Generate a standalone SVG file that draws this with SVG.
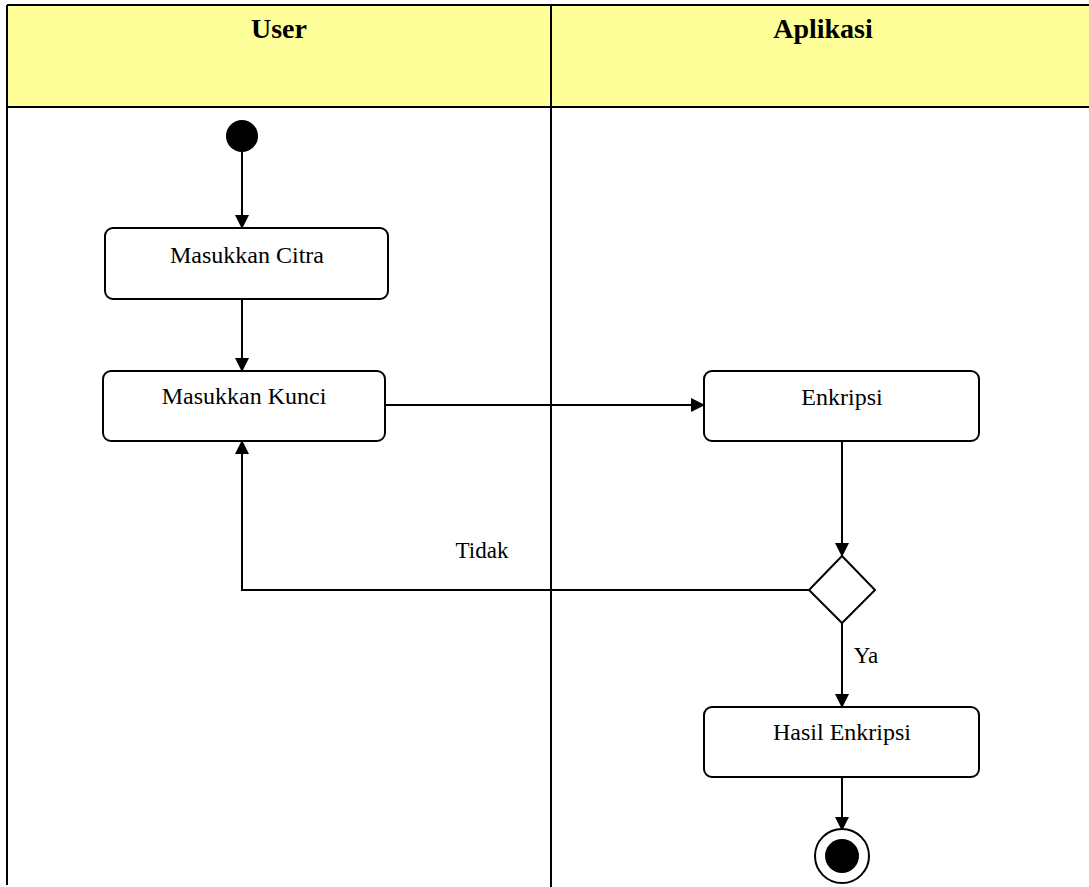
<svg xmlns="http://www.w3.org/2000/svg" width="1089" height="887" viewBox="0 0 1089 887">
<defs>
<marker id="arr" markerWidth="14" markerHeight="14" refX="13" refY="7" orient="auto" markerUnits="userSpaceOnUse">
<path d="M0,0 L14,7 L0,14 z" fill="#000"/>
</marker>
<style>
.lane{stroke:#000;stroke-width:2;fill:none}
.hdr{font-family:"Liberation Serif","Times New Roman",serif;font-weight:bold;font-size:28px;text-anchor:middle}
.act{fill:#fff;stroke:#000;stroke-width:2}
.lbl{font-family:"Liberation Serif","Times New Roman",serif;font-size:24px;text-anchor:middle}
.elbl{font-family:"Liberation Serif","Times New Roman",serif;font-size:23px;text-anchor:middle}
.edge{stroke:#000;stroke-width:2;fill:none;marker-end:url(#arr)}
</style>
</defs>
<rect width="1089" height="887" fill="#fff"/>
<g id="lanes">
<rect x="8" y="6" width="1081" height="101" fill="#FFFF99"/>
<line class="lane" x1="7" y1="5" x2="1089" y2="5"/>
<line class="lane" x1="7" y1="107" x2="1089" y2="107"/>
<line class="lane" x1="7" y1="5" x2="7" y2="885"/>
<line class="lane" x1="551" y1="5" x2="551" y2="887"/>
<text class="hdr" x="279" y="38">User</text>
<text class="hdr" x="823" y="38">Aplikasi</text>
</g>
<g id="connectors">
<line class="edge" x1="242" y1="152" x2="242" y2="228"/>
<line class="edge" x1="242" y1="299" x2="242" y2="371"/>
<line class="edge" x1="385" y1="405" x2="704" y2="405"/>
<line class="edge" x1="842" y1="441" x2="842" y2="556"/>
<polyline class="edge" points="809,590 242,590 242,441"/>
<line class="edge" x1="842" y1="623" x2="842" y2="707"/>
<line class="edge" x1="842" y1="777" x2="842" y2="830"/>
<text class="elbl" x="482" y="558">Tidak</text>
<text class="elbl" x="866" y="663">Ya</text>
</g>
<g id="start"><circle cx="242" cy="136" r="16" fill="#000"/></g>
<g id="masukkan-citra"><rect class="act" x="105" y="228" width="283" height="71" rx="8"/><text class="lbl" x="247" y="263">Masukkan Citra</text></g>
<g id="masukkan-kunci"><rect class="act" x="103" y="371" width="282" height="70" rx="8"/><text class="lbl" x="244" y="404">Masukkan Kunci</text></g>
<g id="enkripsi"><rect class="act" x="704" y="371" width="275" height="70" rx="8"/><text class="lbl" x="842" y="405">Enkripsi</text></g>
<g id="decision"><polygon class="act" points="842,556 875,590 842,623 809,590"/></g>
<g id="hasil-enkripsi"><rect class="act" x="704" y="707" width="275" height="70" rx="8"/><text class="lbl" x="842" y="740">Hasil Enkripsi</text></g>
<g id="end"><circle cx="842" cy="856" r="27" fill="#fff" stroke="#000" stroke-width="2"/><circle cx="842" cy="856" r="17" fill="#000"/></g>
</svg>
